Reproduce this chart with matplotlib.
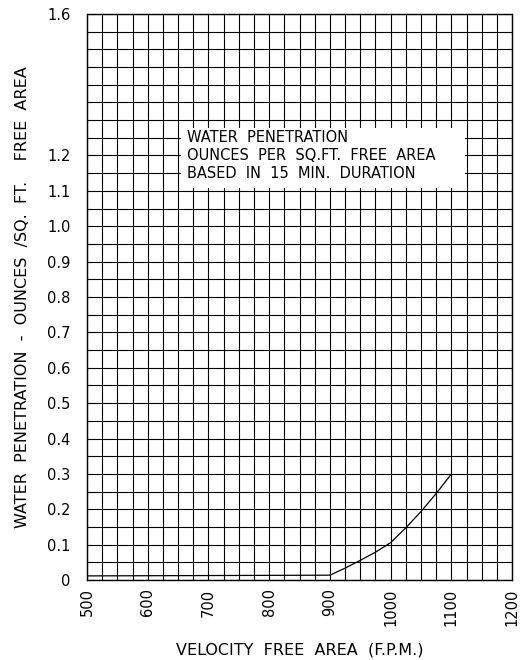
import numpy as np
import matplotlib.pyplot as plt
from matplotlib.patches import Rectangle

# curve
velocity = [500, 900, 925, 950, 975, 1000, 1025, 1050, 1075, 1100]
penetration = [0.012, 0.014, 0.034, 0.056, 0.079, 0.106, 0.148, 0.194, 0.245, 0.3]

x_ticks = [500, 600, 700, 800, 900, 1000, 1100, 1200]
y_ticks = [0, 0.1, 0.2, 0.3, 0.4, 0.5, 0.6, 0.7, 0.8, 0.9, 1.0, 1.1, 1.2, 1.6]
y_tick_labels = ["0", "0.1", "0.2", "0.3", "0.4", "0.5", "0.6", "0.7", "0.8",
                 "0.9", "1.0", "1.1", "1.2", "1.6"]
note_lines = ["WATER  PENETRATION",
              "OUNCES  PER  SQ.FT.  FREE  AREA",
              "BASED  IN  15  MIN.  DURATION"]

plt.rcParams['font.family'] = ['DejaVu Sans']

fig = plt.figure(figsize=(5.21, 6.6), dpi=100)
ax = fig.add_axes([0.167, 0.121, 0.816, 0.858])

ax.set_xlim(500, 1200)
ax.set_ylim(0, 1.6)

# grid every 25 fpm and every 0.05 oz
for gx in np.arange(500, 1201, 25):
    ax.axvline(gx, color="black", lw=0.8, zorder=1)
for gy in np.arange(0, 1.6001, 0.05):
    ax.axhline(gy, color="black", lw=0.8, zorder=1)

ax.plot(velocity, penetration, color="black", lw=0.9, zorder=3)

# note box
ax.add_patch(Rectangle((655, 1.108), 468, 0.17, facecolor="white",
                       edgecolor="none", zorder=2))
for i, line in enumerate(note_lines):
    ax.text(664, 1.25 - 0.05 * i, line, fontsize=10.5, va="center", ha="left",
            zorder=4)

ax.set_xticks(x_ticks)
ax.set_xticklabels([str(v) for v in x_ticks], rotation=90, fontsize=10.5)
ax.set_yticks(y_ticks)
ax.set_yticklabels(y_tick_labels, fontsize=10.5)
ax.tick_params(axis="y", length=0, pad=12)
ax.tick_params(axis="x", length=0, pad=6)

for s in ax.spines.values():
    s.set_color("black")
    s.set_linewidth(1.0)

ax.set_xlabel("VELOCITY  FREE  AREA  (F.P.M.)", fontsize=11.5, labelpad=12)
ax.set_ylabel("WATER  PENETRATION  -  OUNCES  /SQ.  FT.    FREE  AREA",
              fontsize=11.5, labelpad=12)

fig.savefig("out.png", dpi=100)
